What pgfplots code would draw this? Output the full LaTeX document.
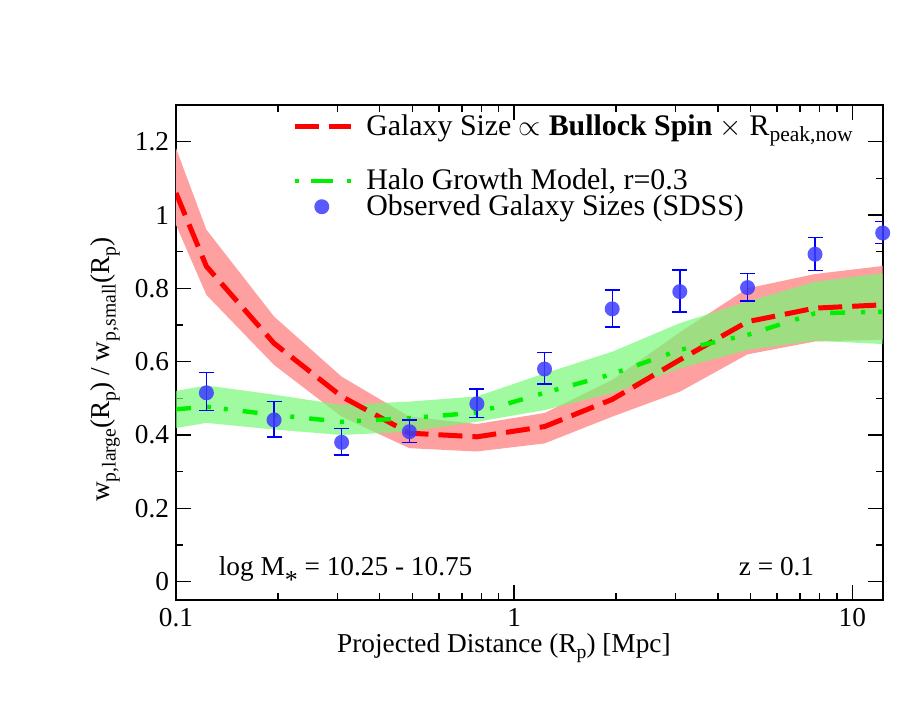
\documentclass[border=0pt]{standalone}
\usepackage{fontspec}
\setmainfont{Liberation Serif}
\usepackage{pgfplots}
\usepackage{pgfplotstable}
\pgfplotsset{compat=1.18}
\usepgfplotslibrary{fillbetween}
\newcommand\sub[1]{\raisebox{-0.45ex}{\scalebox{0.72}{#1}}}
\definecolor{redband}{RGB}{255,160,160}
\definecolor{greenband}{RGB}{119,248,119}
\definecolor{ptblue}{RGB}{60,60,255}
\pgfplotsset{
  lineleg/.style={legend image code/.code={\draw[##1] (0bp,0bp) -- (28bp,0bp); \path (0bp,-21bp);}},
  dotleg/.style={legend image code/.code={\draw[##1, dash pattern=on 2bp off 6bp on 11bp off 7bp on 2bp] (0bp,0bp) -- (28bp,0bp);}},
  markleg/.style={legend image code/.code={\draw[##1] plot coordinates {(13.5bp,0bp)};}},
}

\pgfplotstableread{
x     y     lo    hi
0.1   1.06  0.973 1.182
0.123 0.86  0.782 0.96
0.195 0.65  0.591 0.723
0.309 0.505 0.45  0.559
0.490 0.405 0.364 0.45
0.776 0.395 0.355 0.43
1.23  0.423 0.377 0.46
1.95  0.497 0.45  0.55
3.09  0.605 0.518 0.68
4.90  0.709 0.62  0.80
7.76  0.746 0.655 0.839
12.3  0.755 0.66  0.861
}\bullock

\pgfplotstableread{
x     y     lo    hi
0.1   0.47  0.419 0.52
0.123 0.477 0.433 0.535
0.195 0.455 0.415 0.51
0.309 0.436 0.40  0.482
0.490 0.446 0.409 0.491
0.776 0.461 0.436 0.505
1.23  0.515 0.468 0.568
1.95  0.566 0.514 0.627
3.09  0.632 0.582 0.705
4.90  0.673 0.632 0.764
7.76  0.732 0.657 0.818
12.3  0.736 0.648 0.841
}\halo

\pgfplotstableread{
x     y     ep    em
0.123 0.515 0.055 0.048
0.195 0.441 0.050 0.046
0.309 0.380 0.038 0.035
0.490 0.409 0.032 0.030
0.776 0.485 0.040 0.037
1.23  0.580 0.045 0.041
1.95  0.744 0.051 0.049
3.09  0.791 0.059 0.056
4.90  0.802 0.039 0.037
7.76  0.893 0.046 0.045
12.3  0.951 0.031 0.028
}\obs

\begin{document}
\begin{tikzpicture}
\begin{axis}[
  name=ax,
  scale only axis,
  width=353.35bp, height=247.5bp,
  xmode=log, xmin=0.1, xmax=12.3,
  ymin=-0.05, ymax=1.3,
  xtick={0.1,1,10}, xticklabels={0.1,1,10},
  ytick={0,0.2,0.4,0.6,0.8,1,1.2},
  yticklabels={0,0.2,0.4,0.6,0.8,1,1.2},
  minor ytick={0.1,0.3,0.5,0.7,0.9,1.1},
  tick align=inside,
  major tick length=7.5bp, minor tick length=3.6bp,
  axis line style={line width=1bp},
  every tick/.style={black, line width=0.8bp},
  ticklabel style={font=\fontsize{13.7}{16}\selectfont},
  xticklabel style={inner sep=0pt, yshift=-4bp},
  yticklabel style={inner sep=0pt, xshift=-3.3bp},
  xlabel={Projected Distance (R\sub{p}) [Mpc]},
  ylabel={w\sub{p,large}(R\sub{p}) / w\sub{p,small}(R\sub{p})},
  label style={font=\fontsize{13.7}{16}\selectfont},
  xlabel style={at={(axis description cs:0.464,-0.107)}, anchor=base},
  ylabel style={at={(axis description cs:-0.0934,0.465)}, anchor=base},
  legend style={draw=none, fill=none, at={(axis description cs:0.164,0.989)}, anchor=north west,
    font=\fontsize{15}{17}\selectfont, inner sep=0pt, row sep=-3bp,
    /tikz/every odd column/.append style={column sep=4.5bp}},
  legend cell align=left,
]
% bands
\addplot[draw=none, name path=rt, forget plot] table[x=x,y=hi]{\bullock};
\addplot[draw=none, name path=rb, forget plot] table[x=x,y=lo]{\bullock};
\addplot[fill=redband, draw=none, forget plot] fill between[of=rt and rb];
\addplot[draw=none, name path=gt, forget plot] table[x=x,y=hi]{\halo};
\addplot[draw=none, name path=gb, forget plot] table[x=x,y=lo]{\halo};
\addplot[fill=greenband, fill opacity=0.7, draw=none, forget plot] fill between[of=gt and gb];
% lines
\addplot[red, line width=2.5bp, dash pattern=on 12bp off 5bp, lineleg]
  table[x=x,y=y]{\bullock};
\addlegendentry{Galaxy Size $\propto$ \textbf{Bullock Spin} $\times$ R\sub{peak,now}}
\addplot[color={rgb,255:red,0;green,240;blue,0}, line width=2.2bp,
  dash pattern=on 7.5bp off 8bp on 2bp off 6.5bp on 2bp off 7.5bp, dotleg]
  table[x=x,y=y]{\halo};
\addlegendentry{Halo Growth Model, r=0.3}
\addplot[only marks, mark=*, mark size=3.75bp, color=ptblue,
  mark options={fill=ptblue, draw opacity=0, fill opacity=0.85}, markleg,
  error bars/.cd, y dir=both, y explicit,
  error bar style={line width=0.7bp, color=blue, draw opacity=1},
  error mark options={mark size=3.75bp, line width=0.7bp, color=blue, draw opacity=1, rotate=90},
  ]
  table[x=x,y=y,y error plus=ep,y error minus=em]{\obs};
\addlegendentry{Observed Galaxy Sizes (SDSS)}
\node[anchor=base west, font=\fontsize{13.7}{16}\selectfont] at (axis cs:0.1276,0.018) {log M\raisebox{-1.1ex}{\scalebox{0.95}{*}} = 10.25 - 10.75};
\node[anchor=base east, font=\fontsize{13.7}{16}\selectfont] at (axis cs:8.09,0.018) {z = 0.1};
\end{axis}
\path ([shift={(-88bp,-53bp)}]ax.south west) rectangle ([shift={(15.15bp,52.5bp)}]ax.north east);
\end{tikzpicture}
\end{document}
